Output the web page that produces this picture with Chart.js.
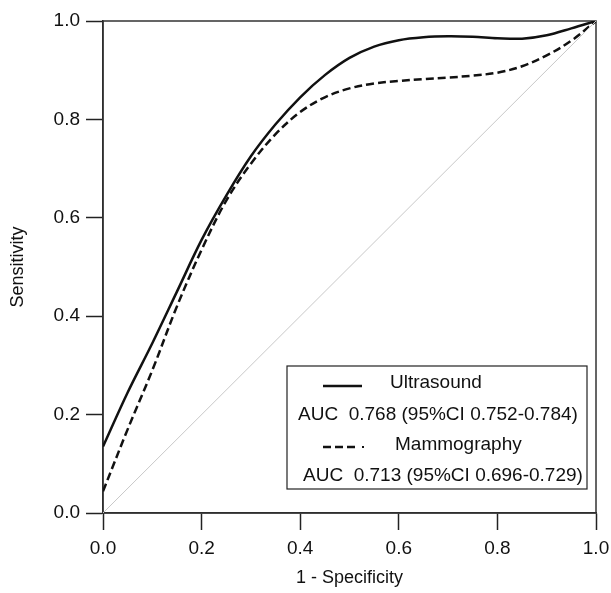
<!DOCTYPE html>
<html>
<head>
<meta charset="utf-8">
<script src="https://cdn.jsdelivr.net/npm/chart.js@4.4.1/dist/chart.umd.min.js"></script>
<style>
  html,body{margin:0;padding:0;background:#fff;}
  #wrap{width:611px;height:593px;position:relative;}
</style>
</head>
<body>
<div id="wrap"><canvas id="roc"></canvas></div>
<script>
// ===== data =====
const fpr = [0,0.05,0.1,0.15,0.2,0.25,0.3,0.35,0.4,0.45,0.5,0.55,0.6,0.65,0.7,0.75,0.8,0.85,0.9,0.95,1.0];
const sensUltrasound = [0.135,0.245,0.345,0.45,0.555,0.645,0.725,0.79,0.845,0.89,0.925,0.948,0.961,0.967,0.969,0.968,0.965,0.964,0.971,0.985,1.0];
const sensMammography = [0.044,0.17,0.29,0.42,0.535,0.635,0.71,0.77,0.815,0.845,0.863,0.873,0.878,0.882,0.885,0.889,0.895,0.908,0.93,0.96,1.0];
const refX = [0,1], refY = [0,1];
const axisTicks = [0,0.2,0.4,0.6,0.8,1.0];
const legendRows = [
  {name:'Ultrasound',  auc:'AUC  0.768 (95%CI 0.752-0.784)', dash:[]},
  {name:'Mammography', auc:'AUC  0.713 (95%CI 0.696-0.729)', dash:[8,4]}
];

const FONT='"Liberation Sans", Arial, sans-serif';
const INK='#111';
const pts=(xs,ys)=>xs.map((x,i)=>({x,y:ys[i]}));

// frame on top/right + boxed legend
const framePlugin={
  id:'frame',
  beforeDatasetsDraw(c){
    const {ctx,chartArea:a}=c;
    ctx.save(); ctx.strokeStyle='#333'; ctx.lineWidth=1.5;
    ctx.strokeRect(a.left,a.top,a.right-a.left,a.bottom-a.top);
    ctx.restore();
  },
  afterDraw(c){
    const {ctx}=c;
    const bx=287, by=366, bw=300, bh=123;
    ctx.save();
    ctx.fillStyle='#fff'; ctx.fillRect(bx,by,bw,bh);
    ctx.strokeStyle='#222'; ctx.lineWidth=1.2; ctx.strokeRect(bx,by,bw,bh);
    ctx.font='19px '+FONT; ctx.fillStyle=INK; ctx.textBaseline='middle';
    // row 1
    ctx.lineWidth=2.5; ctx.strokeStyle=INK;
    ctx.setLineDash(legendRows[0].dash);
    ctx.beginPath(); ctx.moveTo(323,386); ctx.lineTo(362,386); ctx.stroke();
    ctx.fillText(legendRows[0].name,390,383);
    ctx.fillText(legendRows[0].auc,298,415);
    // row 2
    ctx.setLineDash(legendRows[1].dash);
    ctx.beginPath(); ctx.moveTo(323,447); ctx.lineTo(358,447); ctx.stroke();
    ctx.setLineDash([]);
    ctx.fillRect(362,446,2,2);
    ctx.fillText(legendRows[1].name,395,445);
    ctx.fillText(legendRows[1].auc,303,476);
    ctx.restore();
  }
};

const axisCommon=(title,pad)=>({
  type:'linear', min:0, max:1,
  afterBuildTicks:s=>{ s.ticks=axisTicks.map(v=>({value:v})); },
  grid:{drawOnChartArea:false, drawTicks:true, tickLength:17, tickColor:'#222', tickWidth:1.5},
  border:{display:true, color:'#222', width:1.5},
  ticks:{color:INK, font:{family:FONT,size:19}, padding:pad, callback:v=>(+v).toFixed(1), maxRotation:0, autoSkip:false},
  title:{display:true, text:title, color:INK, font:{family:FONT,size:18}, padding:{top:4,bottom:4}}
});

const xAxis=axisCommon('1 - Specificity',7);
xAxis.afterFit=s=>{ s.height=80; s.paddingRight=0; s.paddingLeft=0; };
const yAxis=axisCommon('Sensitivity',6);
yAxis.title.padding={top:7,bottom:7};
yAxis.afterFit=s=>{ s.width=103; s.paddingTop=0; s.paddingBottom=0; };

new Chart(document.getElementById('roc'),{
  type:'line',
  data:{datasets:[
    {label:'Reference', data:pts(refX,refY), borderColor:'#c8c8c8', borderWidth:1, pointRadius:0, tension:0},
    {label:'Mammography', data:pts(fpr,sensMammography), borderColor:INK, borderWidth:2.5, borderDash:[8,4], pointRadius:0, tension:0.35},
    {label:'Ultrasound', data:pts(fpr,sensUltrasound), borderColor:INK, borderWidth:2.5, pointRadius:0, tension:0.35}
  ]},
  options:{
    responsive:true, maintainAspectRatio:false, animation:false,
    layout:{padding:{top:21,right:15,left:0,bottom:0}},
    plugins:{legend:{display:false}, tooltip:{enabled:false}},
    scales:{x:xAxis, y:yAxis}
  },
  plugins:[framePlugin]
});
</script>
</body>
</html>
